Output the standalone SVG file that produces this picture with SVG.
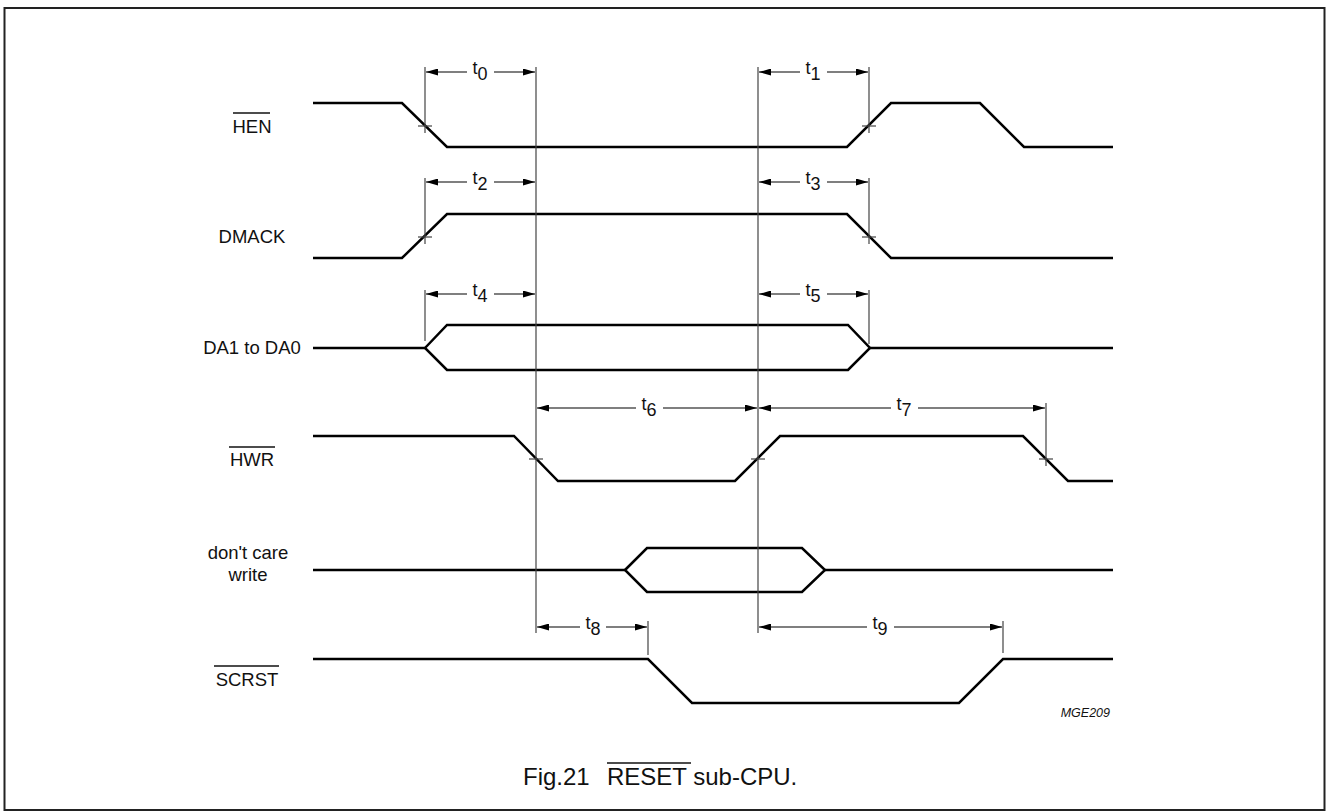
<svg xmlns="http://www.w3.org/2000/svg" width="1326" height="812" viewBox="0 0 1326 812">
<style>
.wave{fill:none;stroke:#000;stroke-width:2.5;stroke-linejoin:miter}
.thin{fill:none;stroke:#444;stroke-width:1.2}
.dim{fill:none;stroke:#000;stroke-width:1.1}
.lbl{font-family:"Liberation Sans",Arial,sans-serif;font-size:18.5px;fill:#111;text-anchor:middle}
.tl{font-family:"Liberation Sans",Arial,sans-serif;font-size:18px;fill:#111;text-anchor:middle}
.ov{stroke:#111;stroke-width:1.3}
</style>
<defs>
<marker id="ah" viewBox="0 0 12 7" refX="12" refY="3.5" markerWidth="12" markerHeight="7" markerUnits="userSpaceOnUse" orient="auto">
<path d="M0,0 L12,3.5 L0,7 Z" fill="#000"/>
</marker>
</defs>
<rect x="4.5" y="8" width="1320" height="802" fill="#fff" stroke="#222" stroke-width="2"/>

<g id="labels">
<g id="lbl-hen"><text class="lbl" x="252" y="133">HEN</text><line class="ov" x1="233" y1="113" x2="270" y2="113"/></g>
<g id="lbl-dmack"><text class="lbl" x="252" y="243">DMACK</text></g>
<g id="lbl-da"><text class="lbl" x="252" y="354">DA1 to DA0</text></g>
<g id="lbl-hwr"><text class="lbl" x="252" y="466">HWR</text><line class="ov" x1="229" y1="447" x2="275" y2="447"/></g>
<g id="lbl-dc"><text class="lbl" x="248" y="559">don't care</text><text class="lbl" x="248" y="581">write</text></g>
<g id="lbl-scrst"><text class="lbl" x="247" y="686">SCRST</text><line class="ov" x1="214" y1="666" x2="279" y2="666"/></g>
</g>

<g id="waveforms">
<polyline id="w-hen" class="wave" points="313,103 402,103 447,147 847,147 891,103 980,103 1024,147 1113,147"/>
<polyline id="w-dmack" class="wave" points="313,258 402,258 447,214 847,214 891,258 1113,258"/>
<g id="w-da">
<polyline class="wave" points="313,348 425,348"/>
<polygon class="wave" points="425,348 447,325 848,325 870,348 848,370 447,370"/>
<polyline class="wave" points="870,348 1113,348"/>
</g>
<polyline id="w-hwr" class="wave" points="313,436 514,436 558,481 735,481 780,436 1023,436 1068,481 1113,481"/>
<g id="w-dc">
<polyline class="wave" points="313,570 625,570"/>
<polygon class="wave" points="625,570 647,548 802,548 825,570 802,592 647,592"/>
<polyline class="wave" points="825,570 1113,570"/>
</g>
<polyline id="w-scrst" class="wave" points="313,659 648,659 692,703 959,703 1003,659 1113,659"/>
</g>

<g id="connectors">
<line class="thin" x1="536" y1="67" x2="536" y2="633"/>
<line class="thin" x1="758" y1="67" x2="758" y2="633"/>
<line class="thin" x1="425" y1="67" x2="425" y2="133"/>
<line class="thin" x1="869" y1="67" x2="869" y2="133"/>
<line class="thin" x1="425" y1="178" x2="425" y2="244"/>
<line class="thin" x1="869" y1="178" x2="869" y2="244"/>
<line class="thin" x1="425" y1="290" x2="425" y2="341"/>
<line class="thin" x1="869" y1="290" x2="869" y2="344"/>
<line class="thin" x1="1046" y1="403" x2="1046" y2="466"/>
<line class="thin" x1="648" y1="621" x2="648" y2="655"/>
<line class="thin" x1="1003" y1="621" x2="1003" y2="653"/>
<line class="thin" x1="418" y1="126" x2="432" y2="126"/>
<line class="thin" x1="862" y1="126" x2="876" y2="126"/>
<line class="thin" x1="418" y1="237" x2="432" y2="237"/>
<line class="thin" x1="862" y1="237" x2="876" y2="237"/>
<line class="thin" x1="529" y1="459" x2="543" y2="459"/>
<line class="thin" x1="751" y1="459" x2="765" y2="459"/>
<line class="thin" x1="1039" y1="459" x2="1053" y2="459"/>

<g id="dim-t0"><line class="dim" x1="467" y1="72" x2="426" y2="72" marker-end="url(#ah)"/><line class="dim" x1="494" y1="72" x2="535" y2="72" marker-end="url(#ah)"/></g>
<g id="dim-t1"><line class="dim" x1="800" y1="72" x2="759" y2="72" marker-end="url(#ah)"/><line class="dim" x1="827" y1="72" x2="868" y2="72" marker-end="url(#ah)"/></g>
<g id="dim-t2"><line class="dim" x1="467" y1="182" x2="426" y2="182" marker-end="url(#ah)"/><line class="dim" x1="494" y1="182" x2="535" y2="182" marker-end="url(#ah)"/></g>
<g id="dim-t3"><line class="dim" x1="800" y1="182" x2="759" y2="182" marker-end="url(#ah)"/><line class="dim" x1="827" y1="182" x2="868" y2="182" marker-end="url(#ah)"/></g>
<g id="dim-t4"><line class="dim" x1="467" y1="294" x2="426" y2="294" marker-end="url(#ah)"/><line class="dim" x1="494" y1="294" x2="535" y2="294" marker-end="url(#ah)"/></g>
<g id="dim-t5"><line class="dim" x1="800" y1="294" x2="759" y2="294" marker-end="url(#ah)"/><line class="dim" x1="827" y1="294" x2="868" y2="294" marker-end="url(#ah)"/></g>
<g id="dim-t6"><line class="dim" x1="636" y1="408" x2="537" y2="408" marker-end="url(#ah)"/><line class="dim" x1="663" y1="408" x2="757" y2="408" marker-end="url(#ah)"/></g>
<g id="dim-t7"><line class="dim" x1="891" y1="408" x2="759" y2="408" marker-end="url(#ah)"/><line class="dim" x1="918" y1="408" x2="1045" y2="408" marker-end="url(#ah)"/></g>
<g id="dim-t8"><line class="dim" x1="580" y1="627" x2="537" y2="627" marker-end="url(#ah)"/><line class="dim" x1="606" y1="627" x2="647" y2="627" marker-end="url(#ah)"/></g>
<g id="dim-t9"><line class="dim" x1="867" y1="627" x2="759" y2="627" marker-end="url(#ah)"/><line class="dim" x1="894" y1="627" x2="1002" y2="627" marker-end="url(#ah)"/></g>
</g>

<g id="timing-labels">
<text class="tl" x="480" y="74">t<tspan dy="6">0</tspan></text>
<text class="tl" x="813" y="74">t<tspan dy="6">1</tspan></text>
<text class="tl" x="480" y="184">t<tspan dy="6">2</tspan></text>
<text class="tl" x="813" y="184">t<tspan dy="6">3</tspan></text>
<text class="tl" x="480" y="296">t<tspan dy="6">4</tspan></text>
<text class="tl" x="813" y="296">t<tspan dy="6">5</tspan></text>
<text class="tl" x="649" y="410">t<tspan dy="6">6</tspan></text>
<text class="tl" x="904" y="410">t<tspan dy="6">7</tspan></text>
<text class="tl" x="593" y="629">t<tspan dy="6">8</tspan></text>
<text class="tl" x="880" y="629">t<tspan dy="6">9</tspan></text>
</g>

<text x="1110" y="717" font-family="'Liberation Sans',Arial,sans-serif" font-size="12.5" font-style="italic" text-anchor="end" fill="#111">MGE209</text>

<g id="caption" font-family="'Liberation Sans',Arial,sans-serif" font-size="24" fill="#111">
<text x="523" y="785">Fig.21</text>
<text x="607" y="785">RESET<tspan> sub-CPU.</tspan></text>
<line class="ov" x1="607" y1="763" x2="691" y2="763"/>
</g>
</svg>
